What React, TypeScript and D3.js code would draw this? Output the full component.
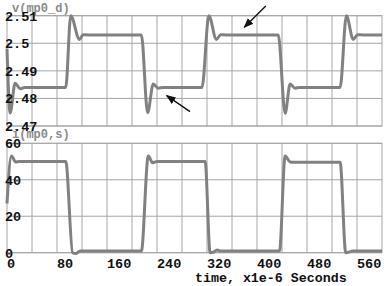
import React from "react";
import * as d3 from "d3";

const W = 385;
const H = 286;

// v(mp0_d) waveform breakpoints (time in us, volts)
const vTime = [0, 5, 13, 21, 28, 94, 102, 116, 122, 130, 215, 225, 234, 242, 250, 312, 323, 335, 342, 350, 434, 445, 453, 461, 468, 533, 543, 554, 561, 570, 600];
const vValue = [2.498, 2.4747, 2.4855, 2.4835, 2.484, 2.484, 2.51, 2.5014, 2.5031, 2.503, 2.503, 2.4748, 2.4852, 2.4837, 2.484, 2.484, 2.51, 2.5014, 2.5031, 2.503, 2.503, 2.4746, 2.4852, 2.4837, 2.484, 2.484, 2.51, 2.5014, 2.5031, 2.503, 2.503];

// i(mp0,s) waveform breakpoints (time in us, amps)
const iTime = [0, 7, 14, 20, 94, 105, 110, 117, 215, 226, 233, 240, 317, 325, 330, 336, 342, 436, 445, 453, 460, 533, 542, 547, 553, 600];
const iValue = [27, 53, 49.8, 50, 50, 0, -0.5, 0.9, 0.9, 53, 49.4, 50, 50, 0, 0.2, 1.5, 0.9, 0.9, 53, 49.8, 49.6, 49.6, 0, 0.3, 0.9, 0.9];

const xTicks = [0, 80, 160, 240, 320, 400, 480, 560];
const xGrid = [40, 80, 120, 160, 200, 240, 280, 320, 360, 400, 440, 480, 520, 560];
const vTicks = [2.47, 2.48, 2.49, 2.5, 2.51];
const iTicks = [0, 20, 40, 60];

// annotation arrows in top panel data coords: [tailT, tailV, headT, headV]
const arrows = [
  [414, 2.5135, 379.7, 2.5058],
  [292.8, 2.4752, 255.5, 2.481],
];

const MONO = "'Liberation Mono', 'DejaVu Sans Mono', monospace";
const LINE = "#818181";
const GRID = "#a6a6a6";

export default function App() {
  const x = d3.scaleLinear().domain([0, 600]).range([7, 382]);
  const yTop = d3.scaleLinear().domain([2.47, 2.51]).range([126, 15.7]);
  const yBot = d3.scaleLinear().domain([0, 60]).range([252.7, 143.3]);

  const vLine = d3
    .line<number>()
    .x((_, k) => x(vTime[k]))
    .y((d) => yTop(d))
    .curve(d3.curveMonotoneX);
  const iLine = d3
    .line<number>()
    .x((_, k) => x(iTime[k]))
    .y((d) => yBot(d))
    .curve(d3.curveMonotoneX);

  const panel = (y: d3.ScaleLinear<number, number>, ticks: number[], key: string) => {
    const [y0, y1] = y.range();
    return (
      <g key={key}>
        {xGrid.map((t) => (
          <line key={"v" + t} x1={x(t)} x2={x(t)} y1={y0} y2={y1} stroke={GRID} strokeWidth={1} />
        ))}
        {ticks.map((t) => (
          <line key={"h" + t} x1={x(0)} x2={x(600)} y1={y(t)} y2={y(t)} stroke={GRID} strokeWidth={1} />
        ))}
        <rect x={x(0)} y={y1} width={x(600) - x(0)} height={y0 - y1} fill="none" stroke={GRID} strokeWidth={1} />
      </g>
    );
  };

  return (
    <svg width={W} height={H} style={{ position: "absolute", left: 0, top: 0, background: "#fff" }}>
      <defs>
        <marker id="ah" viewBox="0 0 10 10" refX="9" refY="5" markerWidth="7" markerHeight="7" orient="auto">
          <path d="M0,1 L10,5 L0,9 Z" fill="#111" />
        </marker>
      </defs>
      <rect x={0} y={0} width={W} height={H} fill="#fff" />
      {panel(yTop, vTicks, "top")}
      {panel(yBot, iTicks, "bot")}

      <path d={vLine(vValue) || ""} fill="none" stroke={LINE} strokeWidth={3} strokeLinejoin="round" />
      <path d={iLine(iValue) || ""} fill="none" stroke={LINE} strokeWidth={3} strokeLinejoin="round" />

      {arrows.map((a, k) => (
        <line key={k} x1={x(a[0])} y1={yTop(a[1])} x2={x(a[2])} y2={yTop(a[3])} stroke="#111" strokeWidth={1.4} markerEnd="url(#ah)" />
      ))}

      <text x={12} y={12} fontFamily={MONO} fontWeight="bold" fontSize={12} fill="#8a8a8a">v(mp0_d)</text>
      <text x={12} y={138} fontFamily={MONO} fontWeight="bold" fontSize={12} fill="#8a8a8a">i(mp0,s)</text>

      {vTicks.map((t) => (
        <text key={t} x={5} y={yTop(t) + 5} fontFamily={MONO} fontWeight="bold" fontSize={13.5} fill="#111">
          {String(t)}
        </text>
      ))}
      {iTicks.map((t) => (
        <text key={t} x={5} y={yBot(t) + 5} fontFamily={MONO} fontWeight="bold" fontSize={13.5} fill="#111">
          {String(t)}
        </text>
      ))}
      {xTicks.map((t) => (
        <text key={t} x={x(t)} y={268} fontFamily={MONO} fontWeight="bold" fontSize={13.5} fill="#111">
          {String(t)}
        </text>
      ))}
      <text x={195} y={282} fontFamily={MONO} fontWeight="bold" fontSize={13.3} fill="#111">
        time, x1e-6 Seconds
      </text>
    </svg>
  );
}
